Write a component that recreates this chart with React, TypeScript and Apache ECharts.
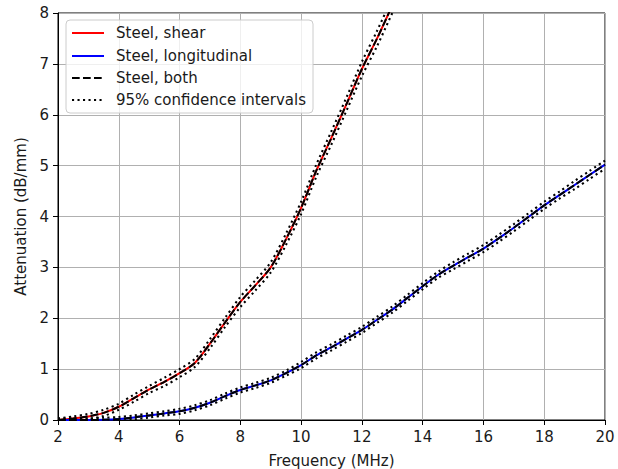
import React, { useEffect, useRef } from "react";
import * as echarts from "echarts";

const freqShear = [2, 2.5, 3, 3.5, 4, 4.5, 5, 5.5, 6, 6.5, 7, 7.5, 8, 8.5, 9, 9.5, 10, 10.5, 11, 11.5, 12, 12.5, 13];
const shearValues = [0.0, 0.03, 0.07, 0.14, 0.26, 0.43, 0.6, 0.75, 0.92, 1.12, 1.5, 1.92, 2.32, 2.65, 3.0, 3.55, 4.17, 4.9, 5.55, 6.22, 6.9, 7.5, 8.15];
const shearCI = [0.03, 0.04, 0.05, 0.06, 0.06, 0.07, 0.07, 0.08, 0.08, 0.08, 0.09, 0.09, 0.1, 0.1, 0.1, 0.11, 0.12, 0.12, 0.13, 0.13, 0.14, 0.15, 0.15];

const freqLong = [2, 2.5, 3, 3.5, 4, 4.5, 5, 5.5, 6, 6.5, 7, 7.5, 8, 8.5, 9, 9.5, 10, 10.5, 11, 11.5, 12, 12.5, 13, 13.5, 14, 14.5, 15, 15.5, 16, 16.5, 17, 17.5, 18, 18.5, 19, 19.5, 20];
const longValues = [0.0, 0.0, 0.0, 0.005, 0.02, 0.05, 0.09, 0.13, 0.17, 0.24, 0.34, 0.47, 0.59, 0.68, 0.78, 0.92, 1.08, 1.27, 1.43, 1.6, 1.77, 1.97, 2.17, 2.4, 2.63, 2.85, 3.03, 3.2, 3.37, 3.57, 3.78, 4.0, 4.22, 4.42, 4.62, 4.82, 5.02];
const longCI = [0.03, 0.03, 0.03, 0.04, 0.04, 0.04, 0.04, 0.04, 0.05, 0.05, 0.05, 0.05, 0.05, 0.05, 0.05, 0.05, 0.06, 0.06, 0.06, 0.06, 0.06, 0.06, 0.06, 0.06, 0.06, 0.06, 0.07, 0.07, 0.07, 0.07, 0.07, 0.07, 0.07, 0.07, 0.08, 0.08, 0.08];

const xTicks = { min: 2, max: 20, interval: 2 };
const yTicks = { min: 0, max: 8, interval: 1 };

const legendLabels = ["Steel, shear", "Steel, longitudinal", "Steel, both", "95% confidence intervals"];

const FONT = "DejaVu Sans";
const FS = 15;

function pairs(xs: number[], ys: number[]) {
  return xs.map((x, i) => [x, ys[i]]);
}
function offset(xs: number[], ys: number[], ci: number[], sign: number) {
  return xs.map((x, i) => [x, ys[i] + sign * ci[i]]);
}

export default function App() {
  const ref = useRef<HTMLDivElement>(null);
  useEffect(() => {
    if (!ref.current) return;
    const chart = echarts.init(ref.current, undefined, { renderer: "svg" });
    const solid = (name: string, data: number[][], color: string) => ({
      name, type: "line", data, showSymbol: false, smooth: 0.3,
      lineStyle: { color, width: 2 }, itemStyle: { color }, z: 2,
    });
    const dashed = (data: number[][]) => ({
      name: legendLabels[2], type: "line", data, showSymbol: false, smooth: 0.3,
      lineStyle: { color: "#000", width: 2, type: [7.7, 3.3] }, z: 3,
    });
    const dotted = (data: number[][]) => ({
      name: legendLabels[3], type: "line", data, showSymbol: false, smooth: 0.3,
      lineStyle: { color: "#000", width: 2.1, type: [2.1, 3.4] }, z: 4,
    });
    const legendY = [33, 56, 78, 100];
    const legendStyles = [
      { stroke: "#ff0000", lineWidth: 2 },
      { stroke: "#0000ff", lineWidth: 2 },
      { stroke: "#000", lineWidth: 2, lineDash: [7.7, 3.3] },
      { stroke: "#000", lineWidth: 2, lineDash: [2.1, 3.4] },
    ];
    const graphics: any[] = [
      {
        type: "rect", shape: { x: 66, y: 20, width: 247, height: 93, r: 4 },
        style: { fill: "rgba(255,255,255,0.8)", stroke: "#cccccc", lineWidth: 1 }, z: 100,
      },
    ];
    legendLabels.forEach((label, i) => {
      graphics.push({
        type: "line", shape: { x1: 72, y1: legendY[i], x2: 104, y2: legendY[i] },
        style: legendStyles[i], z: 101,
      });
      graphics.push({
        type: "text", x: 116, y: legendY[i],
        style: { text: label, font: `${FS}px "${FONT}"`, fill: "#1a1a1a", verticalAlign: "middle" }, z: 101,
      });
    });

    chart.setOption({
      animation: false,
      textStyle: { fontFamily: FONT },
      grid: {
        left: 58, right: 13, top: 13, bottom: 49, show: true, borderColor: "#000", borderWidth: 1,
        containLabel: false, outerBoundsMode: "none",
      },
      xAxis: {
        type: "value", ...xTicks,
        name: "Frequency (MHz)", nameLocation: "middle", nameGap: 33,
        nameTextStyle: { fontSize: FS, color: "#1a1a1a", fontFamily: FONT },
        axisLine: { show: true, onZero: false, lineStyle: { color: "#000", width: 1 } },
        axisTick: { show: true, inside: false, length: 5, lineStyle: { color: "#000" } },
        axisLabel: { fontSize: FS, color: "#1a1a1a", margin: 9, fontFamily: FONT },
        splitLine: { show: true, lineStyle: { color: "#b0b0b0", width: 1 } },
      },
      yAxis: {
        type: "value", ...yTicks,
        name: "Attenuation (dB/mm)", nameLocation: "middle", nameGap: 28,
        nameTextStyle: { fontSize: FS, color: "#1a1a1a", fontFamily: FONT },
        axisLine: { show: true, onZero: false, lineStyle: { color: "#000", width: 1 } },
        axisTick: { show: true, inside: false, length: 5, lineStyle: { color: "#000" } },
        axisLabel: { fontSize: FS, color: "#1a1a1a", margin: 9, fontFamily: FONT },
        splitLine: { show: true, lineStyle: { color: "#b0b0b0", width: 1 } },
      },
      series: [
        solid(legendLabels[0], pairs(freqShear, shearValues), "#ff0000"),
        solid(legendLabels[1], pairs(freqLong, longValues), "#0000ff"),
        dashed(pairs(freqShear, shearValues)),
        dashed(pairs(freqLong, longValues)),
        dotted(offset(freqShear, shearValues, shearCI, 1)),
        dotted(offset(freqShear, shearValues, shearCI, -1)),
        dotted(offset(freqLong, longValues, longCI, 1)),
        dotted(offset(freqLong, longValues, longCI, -1)),
      ],
      graphic: graphics,
    });
    return () => chart.dispose();
  }, []);
  return <div ref={ref} style={{ width: 618, height: 469, position: "absolute", left: 0, top: 0 }} />;
}
